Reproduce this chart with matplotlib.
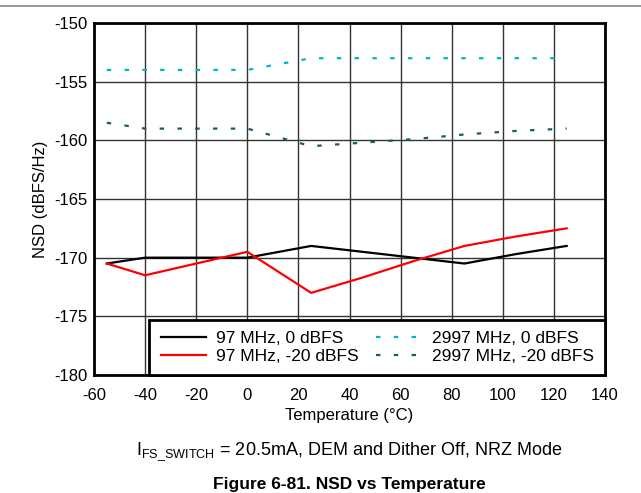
import matplotlib
matplotlib.use("Agg")
import matplotlib.pyplot as plt

plt.rcParams['font.family'] = ['Liberation Sans', 'DejaVu Sans']
plt.rcParams['axes.unicode_minus'] = False

temp = [-55, -40, -20, 0, 25, 45, 65, 85, 105, 125]
nsd_97_0 = [-170.5, -170, -170, -170, -169, -169.5, -170, -170.5, -169.7, -169]
nsd_97_m20 = [-170.5, -171.5, -170.5, -169.5, -173, -171.7, -170.3, -169, -168.2, -167.5]
nsd_2997_0 = [-154, -154, -154, -154, -153, -153, -153, -153, -153, -153]
nsd_2997_m20 = [-158.5, -159, -159, -159, -160.5, -160.2, -159.9, -159.5, -159.2, -159]

labels = ["97 MHz, 0 dBFS", "97 MHz, -20 dBFS", "2997 MHz, 0 dBFS", "2997 MHz, -20 dBFS"]

fig = plt.figure(figsize=(6.41, 4.93), dpi=100)
ax = fig.add_axes([94/641, 1 - 375/493, 511/641, 352/493])

ax.plot(temp, nsd_97_0, color='black', lw=1.6, label=labels[0])
ax.plot(temp, nsd_97_m20, color='#ff0000', lw=1.6, label=labels[1])
ax.plot(temp, nsd_2997_0, color='#00b4cc', lw=1.6, dashes=(2, 6), label=labels[2])
ax.plot(temp, nsd_2997_m20, color='#1a5a6e', lw=1.6, dashes=(2, 6), label=labels[3])

ax.set_xlim(-60, 140)
ax.set_ylim(-180, -150)
ax.set_xticks(range(-60, 141, 20))
ax.set_yticks(range(-180, -149, 5))
ax.grid(True, color='#333333', lw=1)
ax.tick_params(length=0, labelsize=12)
ax.tick_params(axis='x', pad=9)
ax.tick_params(axis='y', pad=5)
for s in ax.spines.values():
    s.set_linewidth(2)
ax.set_xlabel("Temperature (°C)", fontsize=12, labelpad=4)
ax.set_ylabel("NSD (dBFS/Hz)", fontsize=12, labelpad=4)

leg = ax.legend(ncol=2, loc='lower right', fontsize=12.5, frameon=True, fancybox=False,
                framealpha=1, edgecolor='black', borderaxespad=0, handlelength=2.6,
                handletextpad=0.6, columnspacing=1.0, borderpad=0.65, labelspacing=0.15)
leg.get_frame().set_linewidth(2)

fig.add_artist(plt.Line2D([0, 1], [1 - 6/493, 1 - 6/493], color='#888888', lw=1.2))
fig.text(0.545, 1 - 452/493, r"I$_{\mathregular{FS\_SWITCH}}$ = 20.5mA, DEM and Dither Off, NRZ Mode",
         ha='center', va='center', fontsize=13)
fig.text(0.545, 1 - 485/493, "Figure 6-81. NSD vs Temperature", ha='center', va='center',
         fontsize=12.5, fontweight='bold')

fig.savefig("out.png", dpi=100)
